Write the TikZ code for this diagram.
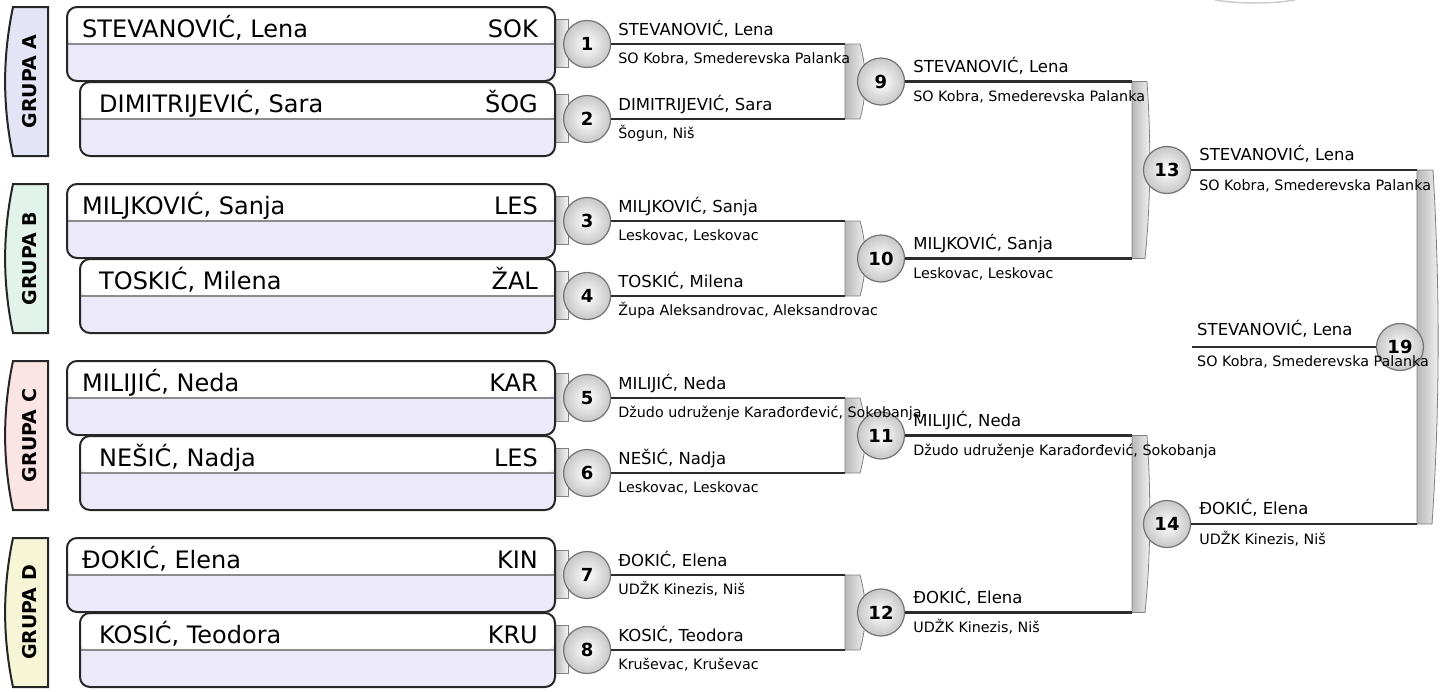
\documentclass[tikz,border=0pt]{standalone}
\usepackage{fontspec}
\setmainfont{DejaVu Sans}
\usepackage{tikz}
\usetikzlibrary{calc,positioning}

\definecolor{boxlav}{RGB}{236,234,249}
\definecolor{grpA}{RGB}{228,228,247}
\definecolor{grpB}{RGB}{226,243,235}
\definecolor{grpC}{RGB}{251,228,228}
\definecolor{grpD}{RGB}{246,246,214}
\definecolor{wirecol}{RGB}{45,45,45}

\tikzset{
  pbox/.style={draw=black!85, line width=2pt, rounded corners=10pt, fill=boxlav,
    minimum height=74pt, inner sep=0pt,
    path picture={\fill[white] (path picture bounding box.north west) rectangle (path picture bounding box.east);
      \draw[black!45, line width=1.2pt] (path picture bounding box.west) -- (path picture bounding box.east);}},
  bigtxt/.style={inner sep=0pt, font=\fontsize{24}{28}\selectfont},
  nm/.style={inner sep=0pt, anchor=base west, font=\fontsize{16.5}{19}\selectfont},
  cl/.style={inner sep=0pt, anchor=base west, font=\fontsize{14.3}{16}\selectfont},
  mcirc/.style={circle, minimum size=47pt, inner sep=0pt, draw=black!55, line width=1.2pt,
    inner color=white, outer color=black!22, font=\fontsize{18}{20}\selectfont\bfseries},
  wire/.style={draw=wirecol, line width=2.6pt},
  bar/.style={draw=black!50, line width=0.8pt, left color=black!28, right color=black!4},
  grp/.style={draw=black!85, line width=2pt},
  grptxt/.style={rotate=90, inner sep=0pt, font=\fontsize{19}{22}\selectfont\bfseries}
}

\begin{document}
\begin{tikzpicture}[x=1pt,y=-1pt]
	\useasboundingbox (0,0) rectangle (1448,691);
	\path[draw=black!20, line width=1.5pt] (1215,0) .. controls (1240,4) and (1270,4) .. (1295,0);

	% group labels
	\path[grp, fill=grpA] (48,7) -- (13,7) .. controls (2.5,57) and (2.5,106) .. (13,156) -- (48,156) -- cycle;
	\path[grp, fill=grpB] (48,184) -- (13,184) .. controls (2.5,234) and (2.5,283) .. (13,333) -- (48,333) -- cycle;
	\path[grp, fill=grpC] (48,361) -- (13,361) .. controls (2.5,411) and (2.5,460) .. (13,510) -- (48,510) -- cycle;
	\path[grp, fill=grpD] (48,538) -- (13,538) .. controls (2.5,588) and (2.5,637) .. (13,687) -- (48,687) -- cycle;
	\node[grptxt] (gA) at (30,81.5) {GRUPA A};
	\node[grptxt] (gB) at (30,258.5) {GRUPA B};
	\node[grptxt] (gC) at (30,435.5) {GRUPA C};
	\node[grptxt] (gD) at (30,612.5) {GRUPA D};

	% tabs and bars
	\path[bar] (555,19) rectangle (568,67);
	\path[bar] (555,94) rectangle (568,142);
	\path[bar] (555,196) rectangle (568,244);
	\path[bar] (555,271) rectangle (568,319);
	\path[bar] (555,373) rectangle (568,421);
	\path[bar] (555,448) rectangle (568,496);
	\path[bar] (555,550) rectangle (568,598);
	\path[bar] (555,625) rectangle (568,673);
	\path[bar] (845,44) -- (860,44) .. controls (867,69) and (867,94) .. (860,119) -- (845,119) -- cycle;
	\path[bar] (845,221) -- (860,221) .. controls (867,246) and (867,271) .. (860,296) -- (845,296) -- cycle;
	\path[bar] (845,398) -- (860,398) .. controls (867,423) and (867,448) .. (860,473) -- (845,473) -- cycle;
	\path[bar] (845,575) -- (860,575) .. controls (867,600) and (867,625) .. (860,650) -- (845,650) -- cycle;
	\path[bar] (1132,81.5) -- (1147,81.5) .. controls (1151,140) and (1151,200) .. (1145,258.5) -- (1132,258.5) -- cycle;
	\path[bar] (1132,435.5) -- (1147,435.5) .. controls (1151,494) and (1151,554) .. (1145,612.5) -- (1132,612.5) -- cycle;
	\path[bar] (1417,170) -- (1433,170) .. controls (1440,288) and (1440,406) .. (1432,524) -- (1417,524) -- cycle;

	\coordinate (col2) at (845,0);
	\coordinate (col3) at (1132,0);
	\coordinate (col4) at (1417,0);
	\coordinate (w19) at (1192,347);

	% players
	\node[pbox, minimum width=488pt] (p1) at (311,44) {};
	\node[pbox, minimum width=475pt] (p2) at (317.5,119) {};
	\node[pbox, minimum width=488pt] (p3) at (311,221) {};
	\node[pbox, minimum width=475pt] (p4) at (317.5,296) {};
	\node[pbox, minimum width=488pt] (p5) at (311,398) {};
	\node[pbox, minimum width=475pt] (p6) at (317.5,473) {};
	\node[pbox, minimum width=488pt] (p7) at (311,575) {};
	\node[pbox, minimum width=475pt] (p8) at (317.5,650) {};

	\node[bigtxt, anchor=base west] (n1) at ([xshift=16pt,yshift=7pt]p1.west) {STEVANOVIĆ, Lena};
	\node[bigtxt, anchor=base west] (n2) at ([xshift=20pt,yshift=7pt]p2.west) {DIMITRIJEVIĆ, Sara};
	\node[bigtxt, anchor=base west] (n3) at ([xshift=16pt,yshift=7pt]p3.west) {MILJKOVIĆ, Sanja};
	\node[bigtxt, anchor=base west] (n4) at ([xshift=20pt,yshift=7pt]p4.west) {TOSKIĆ, Milena};
	\node[bigtxt, anchor=base west] (n5) at ([xshift=16pt,yshift=7pt]p5.west) {MILIJIĆ, Neda};
	\node[bigtxt, anchor=base west] (n6) at ([xshift=20pt,yshift=7pt]p6.west) {NEŠIĆ, Nadja};
	\node[bigtxt, anchor=base west] (n7) at ([xshift=16pt,yshift=7pt]p7.west) {ĐOKIĆ, Elena};
	\node[bigtxt, anchor=base west] (n8) at ([xshift=20pt,yshift=7pt]p8.west) {KOSIĆ, Teodora};
	\node[bigtxt, anchor=base east] (c1) at ([xshift=-18pt,yshift=7pt]p1.east) {SOK};
	\node[bigtxt, anchor=base east] (c2) at ([xshift=-18pt,yshift=7pt]p2.east) {ŠOG};
	\node[bigtxt, anchor=base east] (c3) at ([xshift=-18pt,yshift=7pt]p3.east) {LES};
	\node[bigtxt, anchor=base east] (c4) at ([xshift=-18pt,yshift=7pt]p4.east) {ŽAL};
	\node[bigtxt, anchor=base east] (c5) at ([xshift=-18pt,yshift=7pt]p5.east) {KAR};
	\node[bigtxt, anchor=base east] (c6) at ([xshift=-18pt,yshift=7pt]p6.east) {LES};
	\node[bigtxt, anchor=base east] (c7) at ([xshift=-18pt,yshift=7pt]p7.east) {KIN};
	\node[bigtxt, anchor=base east] (c8) at ([xshift=-18pt,yshift=7pt]p8.east) {KRU};

	% matches
	\node (m1) at (p1.east) [mcirc, right=7pt] {1};
	\node (m2) at (p2.east) [mcirc, right=7pt] {2};
	\node (m3) at (p3.east) [mcirc, right=7pt] {3};
	\node (m4) at (p4.east) [mcirc, right=7pt] {4};
	\node (m5) at (p5.east) [mcirc, right=7pt] {5};
	\node (m6) at (p6.east) [mcirc, right=7pt] {6};
	\node (m7) at (p7.east) [mcirc, right=7pt] {7};
	\node (m8) at (p8.east) [mcirc, right=7pt] {8};
	\node[mcirc] (m9) at (881,81.5) {9};
	\node[mcirc] (m10) at (881,258.5) {10};
	\node[mcirc] (m11) at (881,435.5) {11};
	\node[mcirc] (m12) at (881,612.5) {12};
	\node[mcirc] (m13) at (1167,170) {13};
	\node[mcirc] (m14) at (1167,524) {14};

	\draw[wire] (m1) -- (m1 -| col2);
	\draw[wire] (m2) -- (m2 -| col2);
	\draw[wire] (m3) -- (m3 -| col2);
	\draw[wire] (m4) -- (m4 -| col2);
	\draw[wire] (m5) -- (m5 -| col2);
	\draw[wire] (m6) -- (m6 -| col2);
	\draw[wire] (m7) -- (m7 -| col2);
	\draw[wire] (m8) -- (m8 -| col2);
	\draw[wire] (m9) -- (m9 -| col3);
	\draw[wire] (m10) -- (m10 -| col3);
	\draw[wire] (m11) -- (m11 -| col3);
	\draw[wire] (m12) -- (m12 -| col3);
	\draw[wire] (m13) -- (m13 -| col4);
	\draw[wire] (m14) -- (m14 -| col4);
	\node[mcirc] (m19) at (1400,347) {19};
	\draw[wire] (w19) -- (m19);

	% winners
	\node[nm] at ([xshift=7pt,yshift=9pt]m1.east) {STEVANOVIĆ, Lena};
	\node[cl] at ([xshift=7pt,yshift=-19pt]m1.east) {SO Kobra, Smederevska Palanka};
	\node[nm] at ([xshift=7pt,yshift=9pt]m2.east) {DIMITRIJEVIĆ, Sara};
	\node[cl] at ([xshift=7pt,yshift=-19pt]m2.east) {Šogun, Niš};
	\node[nm] at ([xshift=7pt,yshift=9pt]m3.east) {MILJKOVIĆ, Sanja};
	\node[cl] at ([xshift=7pt,yshift=-19pt]m3.east) {Leskovac, Leskovac};
	\node[nm] at ([xshift=7pt,yshift=9pt]m4.east) {TOSKIĆ, Milena};
	\node[cl] at ([xshift=7pt,yshift=-19pt]m4.east) {Župa Aleksandrovac, Aleksandrovac};
	\node[nm] at ([xshift=7pt,yshift=9pt]m5.east) {MILIJIĆ, Neda};
	\node[cl] at ([xshift=7pt,yshift=-19pt]m5.east) {Džudo udruženje Karađorđević, Sokobanja};
	\node[nm] at ([xshift=7pt,yshift=9pt]m6.east) {NEŠIĆ, Nadja};
	\node[cl] at ([xshift=7pt,yshift=-19pt]m6.east) {Leskovac, Leskovac};
	\node[nm] at ([xshift=7pt,yshift=9pt]m7.east) {ĐOKIĆ, Elena};
	\node[cl] at ([xshift=7pt,yshift=-19pt]m7.east) {UDŽK Kinezis, Niš};
	\node[nm] at ([xshift=7pt,yshift=9pt]m8.east) {KOSIĆ, Teodora};
	\node[cl] at ([xshift=7pt,yshift=-19pt]m8.east) {Kruševac, Kruševac};
	\node[nm] at ([xshift=8pt,yshift=9pt]m9.east) {STEVANOVIĆ, Lena};
	\node[cl] at ([xshift=8pt,yshift=-20pt]m9.east) {SO Kobra, Smederevska Palanka};
	\node[nm] at ([xshift=8pt,yshift=9pt]m10.east) {MILJKOVIĆ, Sanja};
	\node[cl] at ([xshift=8pt,yshift=-20pt]m10.east) {Leskovac, Leskovac};
	\node[nm] at ([xshift=8pt,yshift=9pt]m11.east) {MILIJIĆ, Neda};
	\node[cl] at ([xshift=8pt,yshift=-20pt]m11.east) {Džudo udruženje Karađorđević, Sokobanja};
	\node[nm] at ([xshift=8pt,yshift=9pt]m12.east) {ĐOKIĆ, Elena};
	\node[cl] at ([xshift=8pt,yshift=-20pt]m12.east) {UDŽK Kinezis, Niš};
	\node[nm] at ([xshift=8pt,yshift=10pt]m13.east) {STEVANOVIĆ, Lena};
	\node[cl] at ([xshift=8pt,yshift=-20pt]m13.east) {SO Kobra, Smederevska Palanka};
	\node[nm] at ([xshift=8pt,yshift=10pt]m14.east) {ĐOKIĆ, Elena};
	\node[cl] at ([xshift=8pt,yshift=-20pt]m14.east) {UDŽK Kinezis, Niš};
	\node[nm] at ([xshift=5pt,yshift=12pt]w19) {STEVANOVIĆ, Lena};
	\node[cl] at ([xshift=5pt,yshift=-19pt]w19) {SO Kobra, Smederevska Palanka};
\end{tikzpicture}
\end{document}
